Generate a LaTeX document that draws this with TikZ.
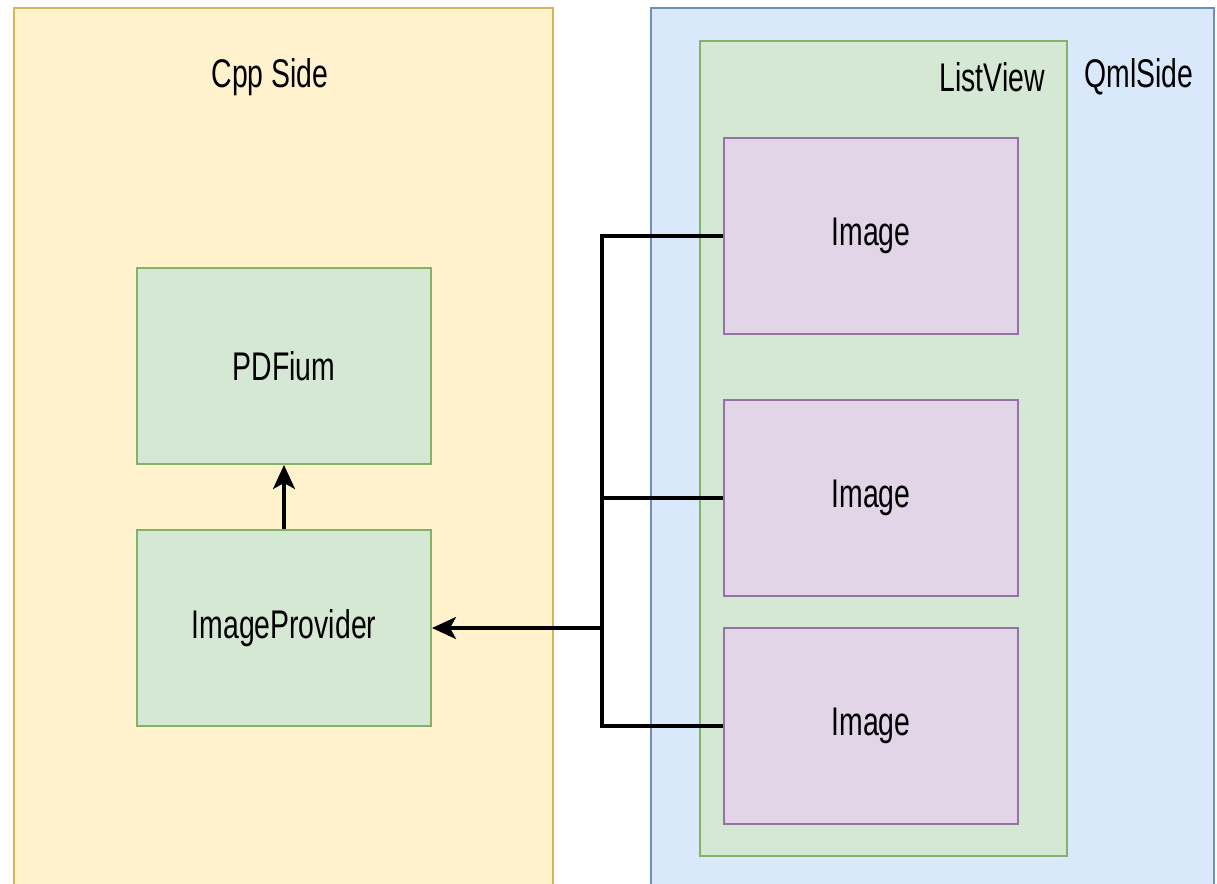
\documentclass[tikz,border=0pt]{standalone}
\usepackage{fontspec}
\setmainfont{Liberation Sans}[FakeStretch=0.71]
\usepackage{tikz}
\usetikzlibrary{positioning, arrows.meta}

\definecolor{cppfill}{HTML}{FFF2CC}
\definecolor{cppline}{HTML}{D6B656}
\definecolor{qmlfill}{HTML}{DAE8FC}
\definecolor{qmlline}{HTML}{6C8EBF}
\definecolor{greenfill}{HTML}{D5E8D4}
\definecolor{greenline}{HTML}{82B366}
\definecolor{imgfill}{HTML}{E1D5E7}
\definecolor{imgline}{HTML}{9673A6}

\tikzset{
    sidebox/.style={draw, line width=1pt, minimum width=#1, minimum height=456pt, inner sep=0pt},
    listbox/.style={draw=greenline, fill=greenfill, line width=1pt, minimum width=183.5pt, minimum height=407.5pt, inner sep=0pt},
    cppbox/.style={draw=greenline, fill=greenfill, line width=1pt, minimum width=147pt, minimum height=98pt, inner sep=0pt},
    imagebox/.style={draw=imgline, fill=imgfill, line width=1pt, minimum width=147pt, minimum height=98pt, inner sep=0pt},
    wire/.style={line width=1.6pt, black},
}

\begin{document}
\begin{tikzpicture}[x=0.5pt, y=-0.5pt, font=\fontsize{20}{24}\selectfont]
    \useasboundingbox (0,0) rectangle (1217,884);
    % the two sides
    \node (cpp) [sidebox=269.5pt, draw=cppline, fill=cppfill] at (283.5,464) {};
    \node (qml) [sidebox=281.5pt, draw=qmlline, fill=qmlfill] at (932.5,464) {};
    \node (list) [listbox] at (883.5,448.5) {};
    \node (cpplabel) at (270,77) {Cpp Side};
    \node (qmllabel) at (1139,77) {QmlSide};
    \node (listlabel) at (992,77) {ListView};
    % cpp boxes
    \node (pdfium) [cppbox] at (284,366) {PDFium};
    \node (provider) [cppbox, below=32pt of pdfium] {ImageProvider};
    % qml images
    \node (img1) [imagebox] at (871,236) {Image};
    \node (img2) [imagebox, below=32pt of img1] {Image};
    \node (img3) [imagebox, below=15pt of img2] {Image};
    % connectors
    \coordinate (bus) at (602,0);
    \draw [wire] (img1.west) -- (img1.west -| bus) -- (img3.west -| bus) -- (img3.west);
    \draw [wire] (img2.west) -- (img2.west -| bus);
    \draw [wire, -{Stealth[length=12pt, width=11pt, inset=3pt]}] (provider.east -| bus) -- (provider.east);
    \draw [wire, -{Stealth[length=12pt, width=11pt, inset=3pt]}] (provider.north) -- (pdfium.south);
\end{tikzpicture}
\end{document}
